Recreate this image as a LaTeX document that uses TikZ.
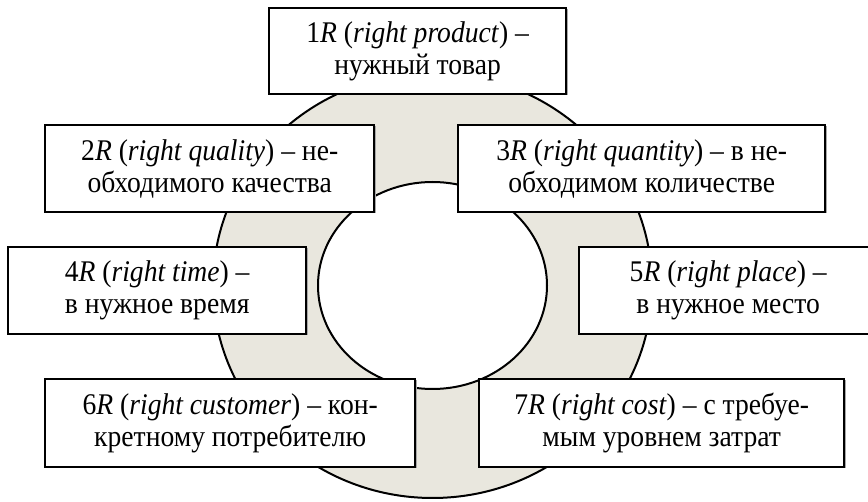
\documentclass[tikz,border=0pt]{standalone}
\usepackage{fontspec}
\setmainfont{Liberation Serif}[FakeStretch=0.92]
\definecolor{ringfill}{HTML}{E9E7DE}
\definecolor{shadowgray}{HTML}{A8A8A8}
\tikzset{
  rbox/.style={draw=black, line width=2.4pt, fill=white, align=center,
    font=\fontsize{30}{32}\selectfont, inner sep=0pt},
  ringline/.style={draw=black, line width=2pt}
}
\newcommand{\rbx}[6]{%
  \fill[shadowgray] (#2+2.5,#3+2.5) rectangle (#4+2.5,#5+2.5);
  \node[rbox, minimum width=#4-#2, minimum height=#5-#3, anchor=north west]
    (#1) at (#2,#3) {#6};
}
\begin{document}
\begin{tikzpicture}[x=1pt,y=-1pt]
\useasboundingbox (0,0) rectangle (868,502);
\clip (0,0) rectangle (868,502);
% ring
\path[fill=ringfill, even odd rule] (432.5,285.5) ellipse [x radius=219.5, y radius=212.5]
  (432.5,285.5) ellipse [x radius=114.5, y radius=103.5];
\draw[ringline] (432.5,285.5) ellipse [x radius=219.5, y radius=212.5];
\draw[ringline, fill=white] (432.5,285.5) ellipse [x radius=114.5, y radius=103.5];
% boxes
\rbx{b1}{268}{7}{565}{93}{1\textit{R} (\textit{right product}) –\\нужный товар}
\rbx{b2}{44}{124}{373}{211}{2\textit{R} (\textit{right quality}) – не-\\обходимого качества}
\rbx{b3}{457}{124}{824}{211}{3\textit{R} (\textit{right quantity}) – в не-\\обходимом количестве}
\rbx{b4}{7}{246}{305}{333}{4\textit{R} (\textit{right time}) –\hspace{18pt}\\в нужное время}
\rbx{b5}{578}{246}{876}{333}{5\textit{R} (\textit{right place}) –\\в нужное место}
\rbx{b6}{44}{378}{414}{466}{6\textit{R} (\textit{right customer}) – кон-\\кретному потребителю}
\rbx{b7}{478}{378}{843}{466}{7\textit{R} (\textit{right cost}) – с требуе-\\мым уровнем затрат}
\end{tikzpicture}
\end{document}
